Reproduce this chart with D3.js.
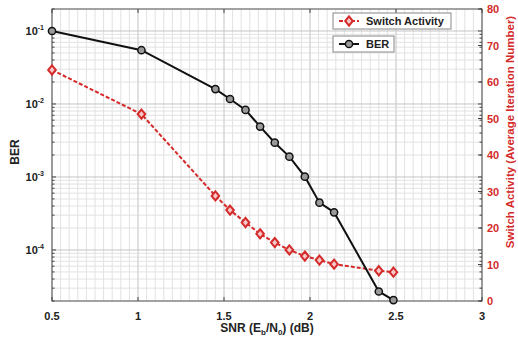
<!DOCTYPE html>
<html><head><meta charset="utf-8">
<script src="https://cdn.jsdelivr.net/npm/d3@7"></script>
<style>body{margin:0;background:#fff;} svg{display:block;font-family:"Liberation Sans",Arial,sans-serif;font-weight:bold;}</style>
</head><body>
<svg id="c" width="518" height="337"></svg>
<script>
const snr = [0.5, 1.02, 1.45, 1.535, 1.625, 1.71, 1.795, 1.88, 1.97, 2.055, 2.14, 2.4, 2.485];
const ber = [0.1, 0.0545, 0.016, 0.0117, 0.0083, 0.0049, 0.00295, 0.0019, 0.00101, 0.000445, 0.000328, 2.7e-5, 2.06e-5];
const switchAct = [63.3, 51.2, 28.8, 24.9, 21.5, 18.4, 16.0, 14.0, 12.3, 11.2, 10.1, 8.3, 7.9];
const xTicks = [0.5, 1, 1.5, 2, 2.5, 3];
const xTickLabels = ["0.5", "1", "1.5", "2", "2.5", "3"];
const berTickExp = [-1, -2, -3, -4];
const rightTicks = [0, 10, 20, 30, 40, 50, 60, 70, 80];

const RED = "#d42a2a";
const svg = d3.select("#c");
const L = 52, R = 482, T = 9, B = 301;
const x = d3.scaleLinear().domain([0.5, 3]).range([L, R]);
const y = d3.scaleLog().domain([2e-5, 0.2]).range([B, T]);
const y2 = d3.scaleLinear().domain([0, 80]).range([B, T]);

// grid
const g = svg.append("g");
const xMinor = d3.range(0.5, 3.0001, 0.05);
g.selectAll(".vx").data(xMinor).join("line")
  .attr("x1", d => x(d)).attr("x2", d => x(d)).attr("y1", T).attr("y2", B)
  .attr("stroke", "#e2e2e2").attr("stroke-width", 1);
const logMinor = [];
for (let e = -5; e <= -1; e++) for (let m = 1; m <= 9; m++) { const v = m * Math.pow(10, e); if (v >= 2e-5 && v <= 0.2) logMinor.push(v); }
g.selectAll(".hy").data(logMinor).join("line")
  .attr("x1", L).attr("x2", R).attr("y1", d => y(d)).attr("y2", d => y(d))
  .attr("stroke", d => Math.abs(Math.log10(d) - Math.round(Math.log10(d))) < 1e-9 ? "#c4c4c4" : "#e2e2e2").attr("stroke-width", 1);
g.selectAll(".vxm").data(xTicks).join("line")
  .attr("x1", d => x(d)).attr("x2", d => x(d)).attr("y1", T).attr("y2", B)
  .attr("stroke", "#d0d0d0").attr("stroke-width", 1);

// frame
svg.append("rect").attr("x", L).attr("y", T).attr("width", R - L).attr("height", B - T)
  .attr("fill", "none").attr("stroke", "#555").attr("stroke-width", 1);

// ticks
const tk = svg.append("g").attr("stroke", "#444").attr("stroke-width", 1);
xTicks.forEach(v => {
  tk.append("line").attr("x1", x(v)).attr("x2", x(v)).attr("y1", B).attr("y2", B - 4);
  tk.append("line").attr("x1", x(v)).attr("x2", x(v)).attr("y1", T).attr("y2", T + 4);
});
logMinor.forEach(v => {
  const major = Math.abs(Math.log10(v) - Math.round(Math.log10(v))) < 1e-9;
  const len = major ? 4 : 2.5;
  tk.append("line").attr("x1", L).attr("x2", L + len).attr("y1", y(v)).attr("y2", y(v));
  tk.append("line").attr("x1", R).attr("x2", R - len).attr("y1", y(v)).attr("y2", y(v));
});
rightTicks.forEach(v => {
  tk.append("line").attr("x1", R).attr("x2", R - 4).attr("y1", y2(v)).attr("y2", y2(v));
});

// x tick labels
svg.append("g").selectAll("text").data(xTicks).join("text")
  .attr("x", d => x(d)).attr("y", 320).attr("text-anchor", "middle")
  .attr("font-size", 11).attr("fill", "#222").text((d, i) => xTickLabels[i]);

// left log labels
berTickExp.forEach(e => {
  const t = svg.append("text").attr("x", 44).attr("y", y(Math.pow(10, e)) + 4)
    .attr("text-anchor", "end").attr("font-size", 11).attr("fill", "#222");
  t.append("tspan").text("10");
  t.append("tspan").attr("dy", -5).attr("font-size", 7).text(String(e));
});

// right labels
svg.append("g").selectAll("text").data(rightTicks).join("text")
  .attr("x", 487).attr("y", d => y2(d) + 4).attr("font-size", 11).attr("fill", RED).text(d => d);

// axis titles
svg.append("text").attr("transform", "translate(19,152) rotate(-90)").attr("text-anchor", "middle")
  .attr("font-size", 12).attr("fill", "#222").text("BER");
const xt = svg.append("text").attr("x", 267).attr("y", 332).attr("text-anchor", "middle")
  .attr("font-size", 12).attr("fill", "#222");
xt.append("tspan").text("SNR (E");
xt.append("tspan").attr("dy", 3).attr("font-size", 8).text("b");
xt.append("tspan").attr("dy", -3).text("/N");
xt.append("tspan").attr("dy", 3).attr("font-size", 8).text("0");
xt.append("tspan").attr("dy", -3).text(") (dB)");
svg.append("text").attr("transform", "translate(514,132) rotate(-90)").attr("text-anchor", "middle")
  .attr("font-size", 11.5).attr("fill", RED).text("Switch Activity (Average Iteration Number)");

// data
const pts = snr.map((s, i) => ({ s, b: ber[i], a: switchAct[i] }));
const lineB = d3.line().x(d => x(d.s)).y(d => y(d.b));
const lineA = d3.line().x(d => x(d.s)).y(d => y2(d.a));
svg.append("path").attr("d", lineA(pts)).attr("fill", "none").attr("stroke", RED)
  .attr("stroke-width", 2).attr("stroke-dasharray", "4,2");
svg.append("path").attr("d", lineB(pts)).attr("fill", "none").attr("stroke", "#111").attr("stroke-width", 2);

const diamondPath = "M0,-4.6L3.8,0L0,4.6L-3.8,0Z";
svg.append("g").selectAll("path").data(pts).join("path")
  .attr("transform", d => `translate(${x(d.s)},${y2(d.a)})`).attr("d", diamondPath)
  .attr("fill", "#f6c8c8").attr("stroke", RED).attr("stroke-width", 2);
svg.append("g").selectAll("circle").data(pts).join("circle")
  .attr("cx", d => x(d.s)).attr("cy", d => y(d.b)).attr("r", 3.6)
  .attr("fill", "#9a9a9a").attr("stroke", "#111").attr("stroke-width", 1.5);

// legends
function legendBox(x0, y0, w, h, label, color, isDiamond) {
  const lg = svg.append("g");
  lg.append("rect").attr("x", x0).attr("y", y0).attr("width", w).attr("height", h)
    .attr("fill", "#fff").attr("stroke", "#888").attr("stroke-width", 1);
  const cy = y0 + h / 2;
  lg.append("line").attr("x1", x0 + 6).attr("x2", x0 + 26).attr("y1", cy).attr("y2", cy)
    .attr("stroke", color).attr("stroke-width", 2).attr("stroke-dasharray", isDiamond ? "4,2" : null);
  if (isDiamond) lg.append("path").attr("transform", `translate(${x0 + 16},${cy})`).attr("d", diamondPath)
    .attr("fill", "#f6c8c8").attr("stroke", color).attr("stroke-width", 2);
  else lg.append("circle").attr("cx", x0 + 16).attr("cy", cy).attr("r", 3.6)
    .attr("fill", "#9a9a9a").attr("stroke", color).attr("stroke-width", 1.5);
  lg.append("text").attr("x", x0 + 33).attr("y", cy + 4).attr("font-size", 11).attr("fill", "#222").text(label);
}
legendBox(333, 13, 118, 16, "Switch Activity", RED, true);
legendBox(333, 36, 61, 16, "BER", "#111", false);
</script>
</body></html>
